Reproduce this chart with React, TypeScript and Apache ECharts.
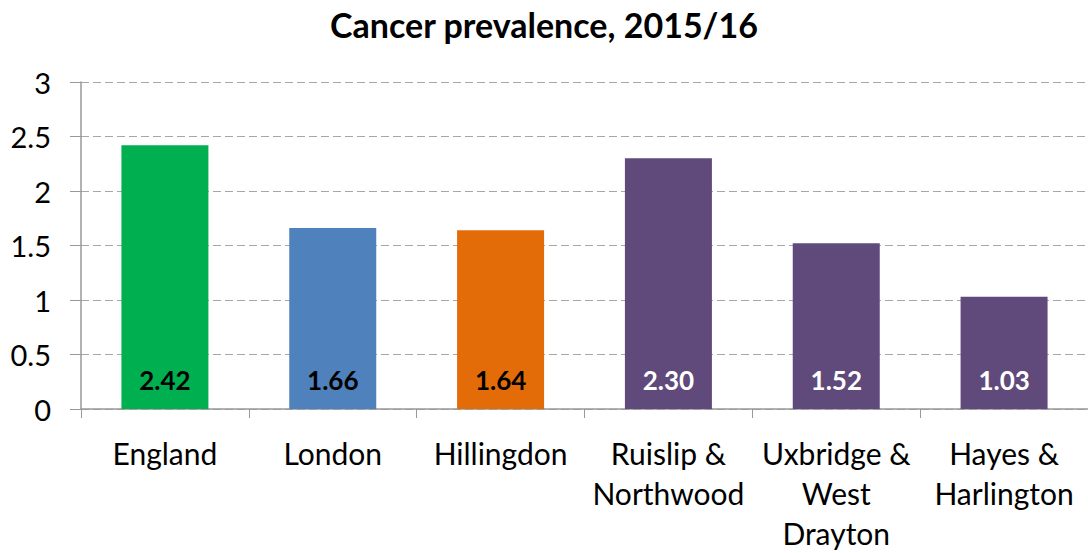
import React, { useEffect, useRef } from "react";
import * as echarts from "echarts";

const title = "Cancer prevalence, 2015/16";
const categories = [
  "England",
  "London",
  "Hillingdon",
  "Ruislip &\nNorthwood",
  "Uxbridge &\nWest\nDrayton",
  "Hayes &\nHarlington",
];
const prevalence = [2.42, 1.66, 1.64, 2.3, 1.52, 1.03];
const barColors = ["#00B050", "#4F81BD", "#E36C09", "#604A7B", "#604A7B", "#604A7B"];
const labelColors = ["#000000", "#000000", "#000000", "#ffffff", "#ffffff", "#ffffff"];

const FONT = "Lato, 'Open Sans', sans-serif";

export default function App() {
  const ref = useRef<HTMLDivElement>(null);

  useEffect(() => {
    if (!ref.current) return;
    const chart = echarts.init(ref.current, undefined, { renderer: "svg" });
    chart.setOption({
      animation: false,
      backgroundColor: "#ffffff",
      textStyle: { fontFamily: FONT },
      title: {
        text: title,
        left: "center",
        top: 2,
        textStyle: { fontFamily: FONT, fontWeight: "bold", fontSize: 34, color: "#000" },
      },
      grid: { left: 81, top: 82, width: 1014, bottom: 142, containLabel: false },
      xAxis: {
        type: "category",
        data: categories,
        axisLine: { show: true, lineStyle: { color: "#999999", width: 1.5 } },
        axisTick: { show: true, length: 9, interval: 0, lineStyle: { color: "#999999" } },
        axisLabel: {
          interval: 0,
          margin: 24,
          fontSize: 30,
          lineHeight: 40,
          color: "#000",
          fontFamily: FONT,
        },
      },
      yAxis: {
        type: "value",
        min: 0,
        max: 3,
        interval: 0.5,
        axisLine: { show: true, lineStyle: { color: "#999999", width: 1.5 } },
        axisTick: { show: true, length: 11, lineStyle: { color: "#999999" } },
        axisLabel: {
          margin: 30,
          fontSize: 29,
          color: "#000",
          fontFamily: FONT,
        },
        splitLine: {
          show: true,
          lineStyle: { color: "#a6a6a6", type: [8, 4], width: 1 },
        },
      },
      series: [
        {
          type: "bar",
          barWidth: 87,
          data: prevalence.map((v, i) => ({
            value: v,
            itemStyle: { color: barColors[i] },
            label: { color: labelColors[i] },
          })),
          label: {
            show: true,
            position: "insideBottom",
            distance: 16,
            fontSize: 26,
            fontWeight: "bold",
            fontFamily: FONT,
            formatter: (p: any) => Number(p.value).toFixed(2),
          },
        },
      ],
    });
    return () => chart.dispose();
  }, []);

  return (
    <div
      ref={ref}
      style={{ position: "fixed", left: 0, top: 0, width: 1088, height: 553 }}
    />
  );
}
